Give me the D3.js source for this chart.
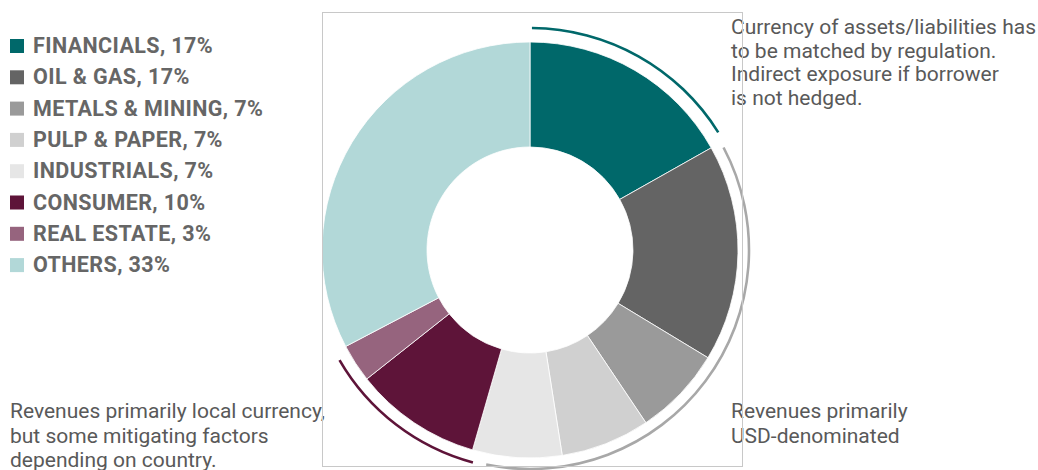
<!DOCTYPE html>
<html>
<head>
<meta charset="utf-8">
<script src="https://cdn.jsdelivr.net/npm/d3@7"></script>
<style>
  body { margin: 0; background: #fff; }
  svg { display: block; }
</style>
</head>
<body>
<div id="chart"></div>
<script>
// sector breakdown, share in %
const sectors = ["FINANCIALS", "OIL & GAS", "METALS & MINING", "PULP & PAPER",
                 "INDUSTRIALS", "CONSUMER", "REAL ESTATE", "OTHERS"];
const shares = [17, 17, 7, 7, 7, 10, 3, 33];
const colors = ["#00686a", "#646464", "#9a9a9a", "#d0d0d0",
                "#e6e6e6", "#5e1439", "#96647e", "#b2d8d8"];

// bracket arcs outside the donut: first and last sector covered
const bracketFirst = [0, 1, 5];
const bracketLast = [0, 4, 6];
const bracketColors = ["#00686a", "#a8a8a8", "#5e1439"];

const notes = [
  ["Currency of assets/liabilities has", "to be matched by regulation.",
   "Indirect exposure if borrower", "is not hedged."],
  ["Revenues primarily", "USD-denominated"],
  ["Revenues primarily local currency,", "but some mitigating factors",
   "depending on country."]
];

const W = 1038, H = 470;
const cx = 530, cy = 250, rOuter = 208, rInner = 103;

const svg = d3.select("#chart").append("svg")
  .attr("width", W).attr("height", H);

const pie = d3.pie().sort(null).value(d => d)(shares);
const arc = d3.arc().innerRadius(rInner).outerRadius(rOuter);

const g = svg.append("g").attr("transform", "translate(" + cx + "," + cy + ")");

g.selectAll("path.slice")
  .data(pie)
  .enter().append("path")
  .attr("class", "slice")
  .attr("d", arc)
  .attr("fill", (d, i) => colors[i])
  .attr("stroke", "#fff")
  .attr("stroke-width", 0.8);

// brackets, trimmed a bit at each end (degrees)
const trimStart = [0.5, 1.5, -1];
const trimEnd = [2.6, 4.5, 2.4];
const bracketR = [222, 219, 220];
const deg = Math.PI / 180;
g.selectAll("path.bracket")
  .data(bracketFirst)
  .enter().append("path")
  .attr("class", "bracket")
  .attr("d", (f, i) => d3.arc()
    .innerRadius(bracketR[i] - 1.3)
    .outerRadius(bracketR[i] + 1.3)
    .startAngle(pie[f].startAngle + trimStart[i] * deg)
    .endAngle(pie[bracketLast[i]].endAngle - trimEnd[i] * deg)())
  .attr("fill", (d, i) => bracketColors[i]);

// legend
const legend = svg.append("g").attr("transform", "translate(10,39)");
const rows = legend.selectAll("g")
  .data(sectors)
  .enter().append("g")
  .attr("transform", (d, i) => "translate(0," + (i * 31.3) + ")");
rows.append("rect")
  .attr("width", 14).attr("height", 14)
  .attr("fill", (d, i) => colors[i]);
rows.append("text")
  .attr("x", 23).attr("y", 14)
  .attr("font-family", "Roboto, sans-serif")
  .attr("font-weight", "bold")
  .attr("font-size", 21.5)
  .attr("letter-spacing", 0.4)
  .attr("fill", "#666")
  .text((d, i) => d + ", " + shares[i] + "%");

// annotations
const notePos = [[731, 34], [731, 418], [10, 418]];
const noteGap = [23.5, 24.5, 24.5];
notes.forEach((lines, k) => {
  const t = svg.append("text")
    .attr("transform", "translate(" + notePos[k][0] + "," + notePos[k][1] + ")")
    .attr("font-family", "Roboto, sans-serif")
    .attr("font-size", 21)
    .attr("fill", "#595959");
  t.selectAll("tspan")
    .data(lines)
    .enter().append("tspan")
    .attr("x", 0)
    .attr("y", (d, i) => i * noteGap[k])
    .text(d => d);
});

// frame around the donut
svg.append("rect")
  .attr("x", 322.5).attr("y", 12.5)
  .attr("width", 420).attr("height", 454)
  .attr("fill", "none")
  .attr("stroke", "#c8c8c8")
  .attr("stroke-width", 1);
</script>
</body>
</html>
